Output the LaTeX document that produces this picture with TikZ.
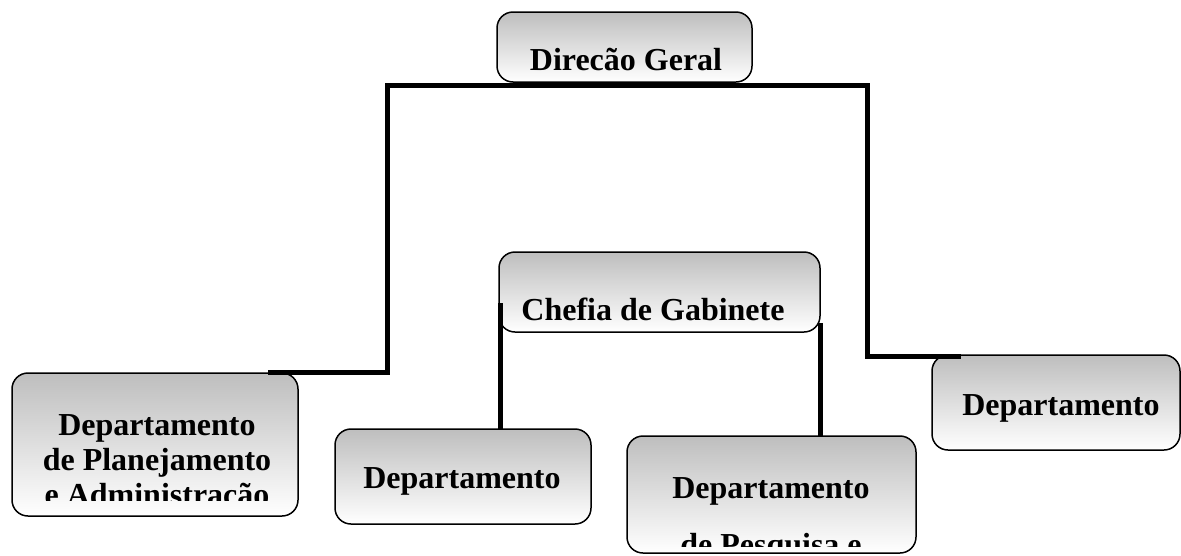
\documentclass[tikz,border=0pt]{standalone}
\usepackage{fontspec}
\setmainfont{Liberation Serif}
\begin{document}
\begin{tikzpicture}[x=1pt,y=-1pt,
  box/.style={draw=black, line width=1.5pt, rounded corners=16pt,
    top color={rgb,255:red,190;green,190;blue,190}, bottom color=white,
    inner sep=0pt, outer sep=0pt},
  txt/.style={font=\fontsize{32}{35}\selectfont\bfseries, anchor=base, inner sep=0pt},
  conn/.style={line width=5pt, line join=miter, line cap=butt}]
\useasboundingbox (0,0) rectangle (1181,555);

% boxes
\node[box, minimum width=255pt, minimum height=70pt] (dg) at (624.5,47) {};
\node[box, minimum width=321pt, minimum height=80pt] (cg) at (659.5,292) {};
\node[box, minimum width=286pt, minimum height=143pt] (dpa) at (155,444.5) {};
\node[box, minimum width=256pt, minimum height=95pt] (dm) at (463,476.5) {};
\node[box, minimum width=289pt, minimum height=117pt] (dpp) at (771.5,494.5) {};
\node[box, minimum width=248pt, minimum height=95pt] (dr) at (1056,402.5) {};

% texts
\node[txt] (dgt) at (626,70) {Direcão Geral};
\node[txt] (cgt) at (653,320) {Chefia de Gabinete};
\begin{scope}
  \clip (12,373) rectangle (298,500);
  \node[txt] (dpa1) at (157,435) {Departamento};
  \node[txt] (dpa2) at (157,470) {de Planejamento};
  \node[txt] (dpa3) at (157,505) {e Administração};
\end{scope}
\node[txt] (dmt) at (462,488) {Departamento};
\begin{scope}
  \clip (627,436) rectangle (916,546);
  \node[txt] (dpp1) at (771,498) {Departamento};
  \node[txt] (dpp2) at (771,555) {de Pesquisa e};
\end{scope}
\node[txt] (drt) at (1061,415) {Departamento};

% connectors
\coordinate (l1) at ([yshift=-3pt]dg.south -| 387,0);
\coordinate (r1) at ([yshift=-3pt]dg.south -| 867,0);
\coordinate (l2) at (387,372);
\coordinate (l3) at (268,372);
\coordinate (r2) at (867,356);
\coordinate (r3) at (961,356);
\draw[conn] (l3) -- (l2) -- (l1) -- (r1) -- (r2) -- (r3);

\coordinate (c1) at (500,303);
\coordinate (c2) at (820,323);
\draw[conn] (c1) -- (c1 |- dm.north);
\draw[conn] (c2) -- (c2 |- dpp.north);
\end{tikzpicture}
\end{document}
